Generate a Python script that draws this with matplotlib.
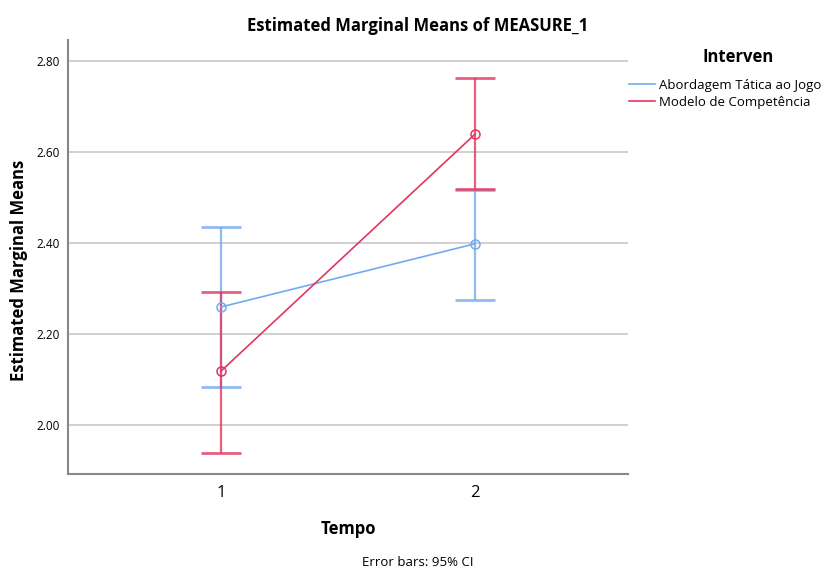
import matplotlib
matplotlib.use("Agg")
import matplotlib.pyplot as plt
import numpy as np

# data
tempo = [1, 2]
groups = ["Abordagem Tática ao Jogo", "Modelo de Competência"]
means_atj = [2.259, 2.398]
lower_atj = [2.084, 2.275]
upper_atj = [2.435, 2.516]
means_mc = [2.118, 2.639]
lower_mc = [1.938, 2.518]
upper_mc = [2.292, 2.762]
yticks = [2.00, 2.20, 2.40, 2.60, 2.80]

colors = ["#74aaee", "#e2365f"]

plt.rcParams["font.family"] = ["Open Sans", "DejaVu Sans"]

W, H = 827, 571
fig = plt.figure(figsize=(W / 100, H / 100), dpi=100)
ax = fig.add_axes([0.0822, 0.170, 0.6772, 0.760])

series = [(means_atj, lower_atj, upper_atj), (means_mc, lower_mc, upper_mc)]
for (m, lo, hi), c, name in zip(series, colors, groups):
    m = np.array(m)
    err = np.vstack([m - np.array(lo), np.array(hi) - m])
    ax.errorbar(tempo, m, yerr=err, fmt="none", ecolor=c, elinewidth=1.6,
                capsize=14.5, capthick=2.0, alpha=0.8, zorder=3)
    ax.plot(tempo, m, color=c, lw=1.2, marker="o", markersize=6.5,
            markerfacecolor="none", markeredgecolor=c, markeredgewidth=1.1,
            label=name, zorder=4)

ax.set_xlim(0.398, 2.602)
ax.set_ylim(1.892, 2.846)
ax.set_xticks(tempo)
ax.set_xticklabels(["1", "2"], fontsize=12)
ax.set_yticks(yticks)
ax.set_yticklabels([f"{v:.2f}" for v in yticks], fontsize=8.5)
ax.tick_params(axis="both", length=0)
ax.tick_params(axis="y", pad=6)
ax.tick_params(axis="x", pad=8)
ax.grid(axis="y", color="#c8c8c8", lw=1.2, zorder=0)
ax.set_axisbelow(True)
for s in ["top", "right"]:
    ax.spines[s].set_visible(False)
for s in ["left", "bottom"]:
    ax.spines[s].set_color("#888888")
    ax.spines[s].set_linewidth(1.5)

ax.set_ylabel("Estimated Marginal Means", fontsize=12, fontweight="bold")
ax.yaxis.set_label_coords(-0.072, 0.47)
ax.set_xlabel("Tempo", fontsize=12, fontweight="bold", labelpad=14)

fig.text(0.505, 0.955, "Estimated Marginal Means of MEASURE_1", ha="center",
         va="center", fontsize=12, fontweight="bold")
fig.text(0.505, 1 - 563 / H, "Error bars: 95% CI", ha="center", va="center",
         fontsize=9.5)

# legend title drawn on its own so the gap to the entries matches
fig.text(738 / W, 1 - 57 / H, "Interven", ha="center", va="center",
         fontsize=12, fontweight="bold")
leg = ax.legend(loc="upper left", bbox_to_anchor=(629 / W, 1 - 79 / H),
                bbox_transform=fig.transFigure, frameon=False,
                fontsize=9.5, handlelength=2.0, handletextpad=0.3,
                labelspacing=0.3, borderaxespad=0.0, borderpad=0.0)
for h in leg.legend_handles:
    h.set_marker("")

fig.savefig("out.png", dpi=100)
